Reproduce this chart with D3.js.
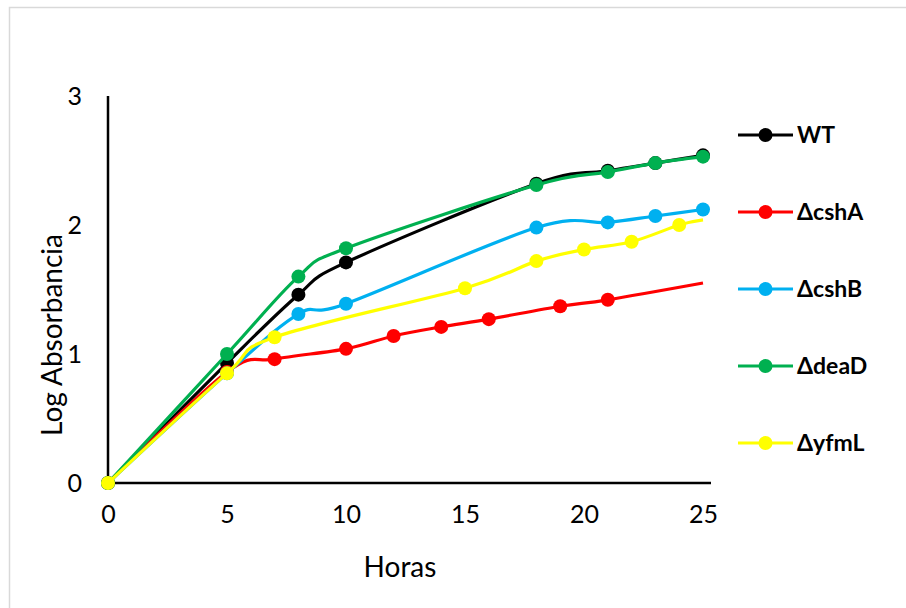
<!DOCTYPE html>
<html>
<head>
<meta charset="utf-8">
<script src="https://cdn.jsdelivr.net/npm/d3@7"></script>
<style>
  html, body { margin: 0; padding: 0; background: #fff; }
  svg { display: block; }
</style>
</head>
<body>
<svg id="chart" width="906" height="608"></svg>
<script>
// ---- Data ----
const seriesNames = ["WT", "ΔcshA", "ΔcshB", "ΔdeaD", "ΔyfmL"];
const wtHours   = [0, 5, 8, 10, 18, 21, 23, 25];
const wtValues  = [0, 0.93, 1.46, 1.71, 2.32, 2.42, 2.48, 2.54];
const cshAHours  = [0, 5, 7, 10, 12, 14, 16, 19, 21, 25];
const cshAValues = [0, 0.86, 0.96, 1.04, 1.14, 1.21, 1.27, 1.37, 1.42, 1.55];
const cshBHours  = [0, 5, 8, 10, 18, 21, 23, 25];
const cshBValues = [0, 0.85, 1.31, 1.39, 1.98, 2.02, 2.07, 2.12];
const deaDHours  = [0, 5, 8, 10, 18, 21, 23, 25];
const deaDValues = [0, 1.00, 1.60, 1.82, 2.31, 2.41, 2.48, 2.53];
const yfmLHours  = [0, 5, 7, 15, 18, 20, 22, 24, 25];
const yfmLValues = [0, 0.85, 1.13, 1.51, 1.72, 1.81, 1.87, 2.00, 2.04];
// series whose last point has no marker
const lastPointWithoutMarker = ["ΔcshA", "ΔyfmL"];
const xTicks = [0, 5, 10, 15, 20, 25];
const yTicks = [0, 1, 2, 3];
const xTitle = "Horas";
const yTitle = "Log Absorbancia";

const colors = ["#000000", "#FF0000", "#00B0F0", "#00B050", "#FFFF00"];
const hoursList = [wtHours, cshAHours, cshBHours, deaDHours, yfmLHours];
const valuesList = [wtValues, cshAValues, cshBValues, deaDValues, yfmLValues];

const series = seriesNames.map((name, i) => ({
  name,
  color: colors[i],
  points: hoursList[i].map((h, j) => ({ x: h, y: valuesList[i][j] }))
}));

const svg = d3.select("#chart");
const font = "Lato, 'Open Sans', sans-serif";

// chart frame
svg.append("rect")
  .attr("x", 9.5).attr("y", 7.5)
  .attr("width", 905).attr("height", 610)
  .attr("fill", "#fff").attr("stroke", "#d9d9d9").attr("stroke-width", 1.5);

const x = d3.scaleLinear().domain([0, 25]).range([108, 703]);
const y = d3.scaleLinear().domain([0, 3]).range([483, 96]);

// axes
const xAxis = d3.axisBottom(x).tickValues(xTicks).tickFormat(d3.format("d")).tickSize(0).tickPadding(22);
const gx = svg.append("g").attr("transform", `translate(0,${y(0)})`).call(xAxis);
gx.select(".domain").remove();
gx.selectAll("text").attr("font-family", font).attr("font-size", 25).attr("fill", "#000");

const yAxis = d3.axisLeft(y).tickValues(yTicks).tickFormat(d3.format("d")).tickSize(0).tickPadding(26);
const gy = svg.append("g").attr("transform", `translate(${x(0)},0)`).call(yAxis);
gy.select(".domain").remove();
gy.selectAll("text").attr("font-family", font).attr("font-size", 25).attr("fill", "#000");

svg.append("line")
  .attr("x1", x(0)).attr("x2", x(25) + 8)
  .attr("y1", y(0)).attr("y2", y(0))
  .attr("stroke", "#000").attr("stroke-width", 2.5);
svg.append("line")
  .attr("x1", x(0)).attr("x2", x(0))
  .attr("y1", y(0)).attr("y2", y(3))
  .attr("stroke", "#000").attr("stroke-width", 2.5);

// axis titles
svg.append("text")
  .attr("x", 400).attr("y", 577)
  .attr("text-anchor", "middle")
  .attr("font-family", font).attr("font-size", 28)
  .text(xTitle);
svg.append("text")
  .attr("transform", "translate(62,335) rotate(-90)")
  .attr("text-anchor", "middle")
  .attr("font-family", font).attr("font-size", 28)
  .text(yTitle);

// lines
const line = d3.line()
  .x(d => x(d.x)).y(d => y(d.y))
  .curve(d3.curveCardinal.tension(0));

series.forEach(s => {
  svg.append("path")
    .attr("d", line(s.points))
    .attr("fill", "none")
    .attr("stroke", s.color)
    .attr("stroke-width", 3.2)
    .attr("stroke-linejoin", "round");
  const pts = lastPointWithoutMarker.includes(s.name) ? s.points.slice(0, -1) : s.points;
  svg.append("g").selectAll("circle")
    .data(pts).join("circle")
    .attr("cx", d => x(d.x)).attr("cy", d => y(d.y))
    .attr("r", 7)
    .attr("fill", s.color);
});

// legend
const legendY = d3.scalePoint().domain(seriesNames).range([135, 443]);
const lg = svg.append("g");
series.forEach(s => {
  const yy = legendY(s.name);
  lg.append("line")
    .attr("x1", 738).attr("x2", 793)
    .attr("y1", yy).attr("y2", yy)
    .attr("stroke", s.color).attr("stroke-width", 3.2);
  lg.append("circle")
    .attr("cx", 765.5).attr("cy", yy).attr("r", 7)
    .attr("fill", s.color);
  lg.append("text")
    .attr("x", 797).attr("y", yy)
    .attr("dy", "0.36em")
    .attr("font-family", font).attr("font-weight", "bold").attr("font-size", 23)
    .attr("fill", "#000")
    .text(s.name);
});
</script>
</body>
</html>
